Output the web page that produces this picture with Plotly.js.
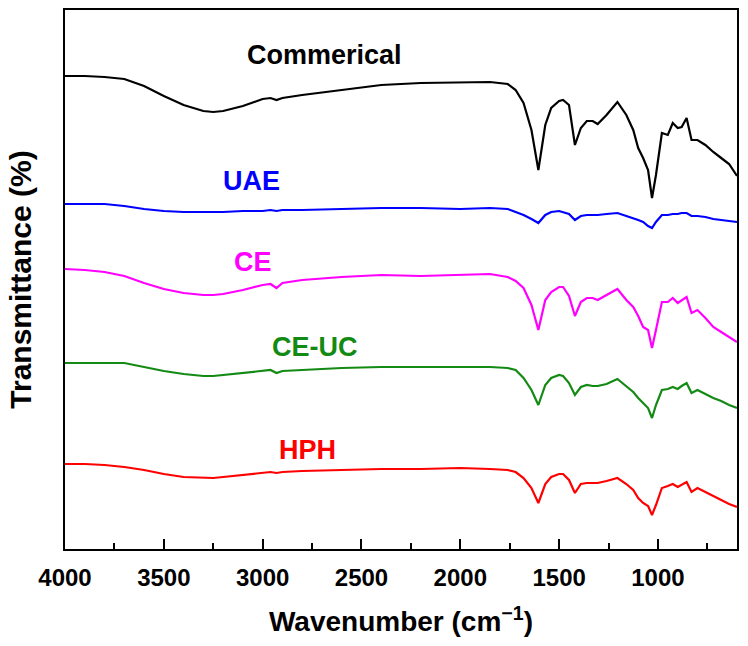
<!DOCTYPE html>
<html>
<head>
<meta charset="utf-8">
<script src="https://cdn.plot.ly/plotly-3.0.1.min.js"></script>
<style>html,body{margin:0;padding:0;background:#fff;}#chart{width:748px;height:646px;}</style>
</head>
<body>
<div id="chart"></div>
<script>
const wavenumber = [4000,3900,3800,3700,3600,3500,3400,3300,3250,3200,3100,3000,2960,2930,2900,2800,2600,2400,2200,2000,1850,1760,1720,1680,1640,1605,1570,1540,1500,1480,1450,1420,1390,1360,1330,1305,1260,1205,1160,1125,1100,1075,1050,1030,1010,980,950,925,900,880,855,830,800,760,720,680,640,600];

const commercial = [473,473,472,470,463,453,444,438,437,438,443,450,451,449,451,454,459,464,466,467,467,465,459,446,419,379,424,441,448,449,444,404,421,428,428,425,434,447,434,419,401,391,379,351,374,416,414,426,421,422,431,409,409,404,397,391,385,373];
const uae = [345,345,345,343,340,338,337,337,337,337,338,338,339,338,339,339,340,341,341,340,341,340,337,334,330,326,334,337,338,337,335,329,333,334,334,334,335,336,333,331,329,327,323,321,327,334,334,335,335,336,336,333,333,332,330,329,328,327];
const ce = [280,279,277,273,266,260,256,254,254,255,259,264,265,261,266,269,272,274,273,274,275,272,268,261,244,219,249,257,262,262,253,233,247,251,251,249,254,260,249,242,233,222,219,201,219,247,247,251,246,249,252,236,239,231,222,217,212,207];
const ceuc = [186,186,186,186,182,178,175,173,173,174,176,178,179,176,178,179,181,182,182,182,182,181,179,171,159,144,164,171,174,173,166,154,162,164,163,163,165,170,163,157,151,146,141,131,144,159,160,162,160,163,166,156,159,155,151,148,144,141];
const hph = [85,85,84,82,79,75,72,71,71,72,74,76,77,76,77,78,79,80,80,81,80,79,77,71,61,46,65,72,75,75,69,56,65,66,66,66,68,71,65,59,51,46,43,34,44,61,63,65,62,64,67,57,61,57,53,49,45,42];

const seriesNames = ["Commerical","UAE","CE","CE-UC","HPH"];
const seriesColors = ["#000000","#0000ff","#ff00ff","#138a13","#ff0000"];
const seriesValues = [commercial, uae, ce, ceuc, hph];
const labelX = [2685, 3054, 3049, 2735, 2771];
const labelY = [494, 368, 287, 202, 99];

const FONT = 'Liberation Sans, Arial, sans-serif';

const traces = seriesValues.map((v, i) => ({
  x: wavenumber, y: v, type: 'scatter', mode: 'lines', name: seriesNames[i],
  line: {color: seriesColors[i], width: 2.2}
}));

const annotations = seriesNames.map((n, i) => ({
  x: labelX[i], y: labelY[i], xref: 'x', yref: 'y', text: n, showarrow: false,
  font: {family: FONT, size: 27, color: seriesColors[i], weight: 'bold'}
}));

const layout = {
  width: 748, height: 646,
  margin: {l: 65, r: 11, t: 10, b: 97},
  paper_bgcolor: '#fff', plot_bgcolor: '#fff',
  showlegend: false,
  font: {family: FONT, color: '#000'},
  xaxis: {
    range: [4000, 600], dtick: 500, tick0: 4000, ticks: 'inside', ticklen: 10, tickwidth: 2,
    tickcolor: '#000', showline: true, linewidth: 2, linecolor: '#000', mirror: true,
    showgrid: false, zeroline: false, ticklabelstandoff: 6,
    minor: {dtick: 250, ticks: 'inside', ticklen: 6, tickwidth: 2, tickcolor: '#000', showgrid: false},
    tickfont: {size: 24, weight: 'bold', family: FONT},
    title: {text: 'Wavenumber (cm<sup>−1</sup>)', font: {size: 28, weight: 'bold', family: FONT}, standoff: 22}
  },
  yaxis: {
    range: [0, 539], showticklabels: false, ticks: '', showline: true, linewidth: 2, linecolor: '#000',
    mirror: true, showgrid: false, zeroline: false,
    title: {text: 'Transmittance (%)', font: {size: 30, weight: 'bold', family: FONT}, standoff: 23}
  },
  annotations: annotations
};

Plotly.newPlot('chart', traces, layout, {displayModeBar: false, staticPlot: true});
</script>
</body>
</html>
